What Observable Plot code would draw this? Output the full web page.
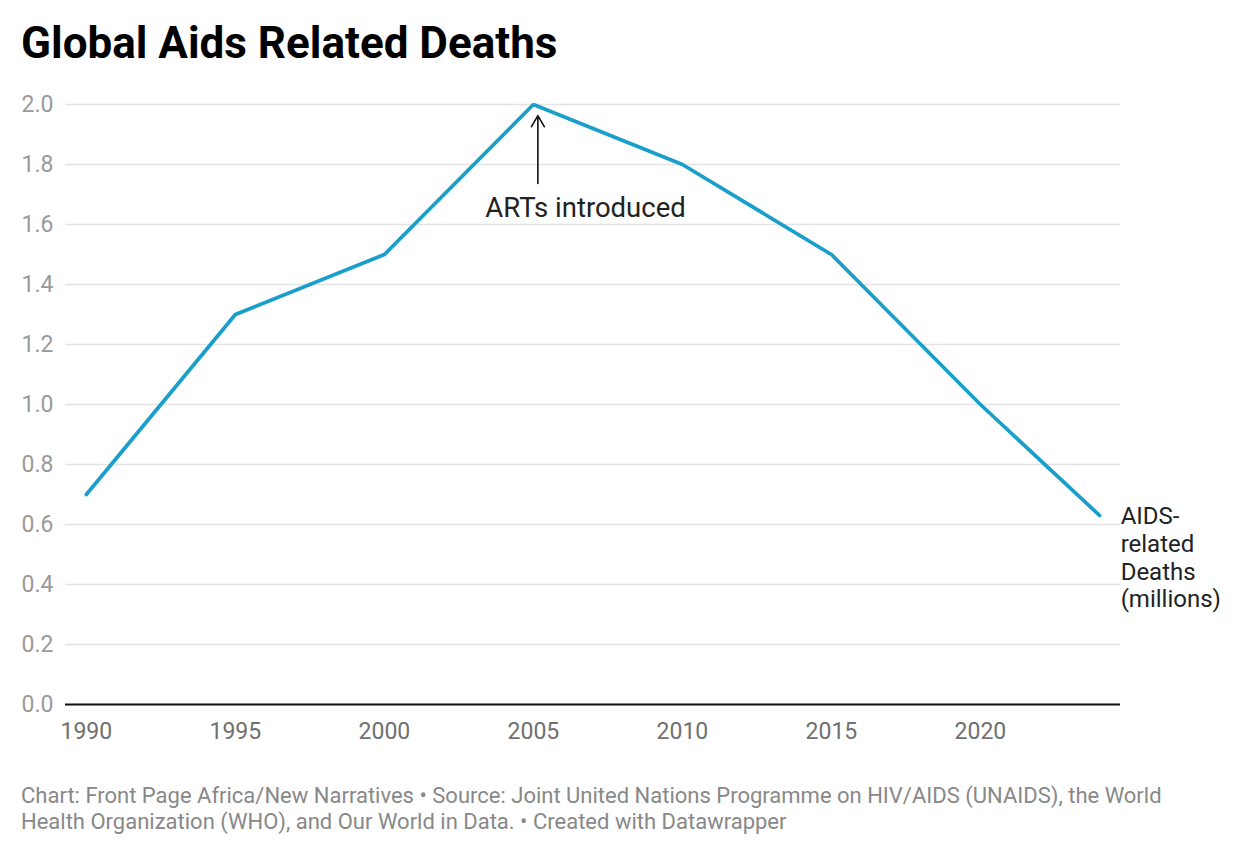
<!DOCTYPE html>
<html>
<head>
<meta charset="utf-8">
<script src="https://cdn.jsdelivr.net/npm/d3@7"></script>
<script src="https://cdn.jsdelivr.net/npm/@observablehq/plot@0.6"></script>
<style>
  html, body { margin: 0; padding: 0; background: #fff; }
  body { width: 1240px; height: 856px; position: relative; font-family: Roboto, sans-serif; }
  #title { position: absolute; left: 21px; top: 17px; font-size: 44px; line-height: 52px; font-weight: 700; color: #000; }
  #chart { position: absolute; left: 0; top: 80px; }
  #footer { position: absolute; left: 21px; top: 783px; font-size: 22px; line-height: 25.5px; color: #888; width: 1165px; }
</style>
</head>
<body>
<div id="title">Global Aids Related Deaths</div>
<div id="chart"></div>
<div id="footer">Chart: Front Page Africa/New Narratives • Source: Joint United Nations Programme on HIV/AIDS (UNAIDS), the World Health Organization (WHO), and Our World in Data. • Created with Datawrapper</div>
<script>
const years = [1990, 1995, 2000, 2005, 2010, 2015, 2020, 2024];
const deaths = [0.7, 1.3, 1.5, 2.0, 1.8, 1.5, 1.0, 0.63];
const xTicks = [1990, 1995, 2000, 2005, 2010, 2015, 2020];
const yTicks = [0, 0.2, 0.4, 0.6, 0.8, 1.0, 1.2, 1.4, 1.6, 1.8, 2.0];
const seriesLabel = "AIDS-\nrelated\nDeaths\n(millions)";
const annotation = [{x: 2005.15, y1: 1.737, y2: 1.963, tx: 2006.75, ty: 1.655, text: "ARTs introduced"}];

const data = years.map((y, i) => ({year: y, value: deaths[i]}));
const last = data[data.length - 1];

const chart = Plot.plot({
  width: 1240,
  height: 680,
  marginTop: 24,
  marginBottom: 56,
  marginLeft: 65,
  marginRight: 120,
  style: {fontFamily: "Roboto, sans-serif", background: "#fff", overflow: "visible"},
  x: {domain: [1989.3, 2024.7]},
  y: {domain: [0, 2]},
  marks: [
    Plot.gridY(yTicks, {stroke: "#e3e3e3", strokeOpacity: 1, strokeWidth: 1.3}),
    Plot.axisY(yTicks, {tickSize: 0, tickPadding: 12, fontSize: 23, fill: "#9a9a9a", tickFormat: d3.format(".1f"), label: null}),
    Plot.axisX(xTicks, {tickSize: 0, tickPadding: 18, fontSize: 23, fill: "#707070", tickFormat: d => String(d), label: null}),
    Plot.ruleY([0], {stroke: "#111", strokeWidth: 2}),
    Plot.line(data, {x: "year", y: "value", stroke: "#1a9fcb", strokeWidth: 3.7, strokeLinejoin: "miter"}),
    Plot.arrow(annotation, {x1: "x", y1: "y1", x2: "x", y2: "y2", stroke: "#111", strokeWidth: 1.6, headLength: 12, headAngle: 60}),
    Plot.text(annotation, {x: "tx", y: "ty", text: "text", fontSize: 27.5, fill: "#222", textAnchor: "middle"}),
    Plot.text([last], {x: "year", y: "value", text: () => seriesLabel, textAnchor: "start", lineAnchor: "top", dx: 21, dy: -11, fontSize: 24, lineHeight: 1.155, fill: "#222"})
  ]
});
document.getElementById("chart").appendChild(chart);
</script>
</body>
</html>
